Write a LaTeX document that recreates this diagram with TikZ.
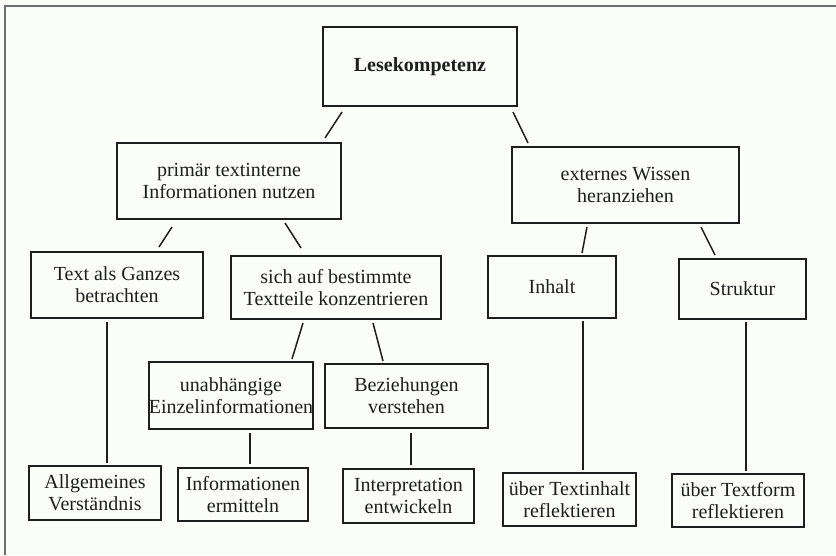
\documentclass[tikz,border=0pt]{standalone}
\usepackage{fontspec}
\setmainfont{Liberation Serif}
\definecolor{bgc}{RGB}{250,253,248}
\definecolor{framec}{RGB}{110,110,110}
\definecolor{inkc}{RGB}{30,30,30}
\begin{document}
\begin{tikzpicture}[x=1pt,y=-1pt,
  box/.style={draw=inkc,line width=1.8pt,rectangle,inner sep=0pt,align=center,
    text=inkc,font=\fontsize{20}{22}\selectfont},
  link/.style={draw=inkc,line width=1.5pt}]
\fill[bgc] (0,0) rectangle (836,555);
\useasboundingbox (0,0) rectangle (836,555);
\draw[framec,line width=1.5pt] (836,6) -- (5,6) -- (5,555);
% boxes
\node[box,minimum width=194,minimum height=79,font=\fontsize{20}{22}\selectfont\bfseries] (lese) at (420,66.5) {Lesekompetenz};
\node[box,minimum width=224,minimum height=76] (prim) at (229,181) {primär textinterne\\Informationen nutzen};
\node[box,minimum width=227,minimum height=76] (ext) at (625.5,185) {externes Wissen\\heranziehen};
\node[box,minimum width=172,minimum height=66] (ganz) at (117,285) {Text als Ganzes\\betrachten};
\node[box,minimum width=210,minimum height=63] (sich) at (336,287.5) {sich auf bestimmte\\Textteile konzentrieren};
\node[box,minimum width=128,minimum height=62] (inh) at (552,287) {Inhalt};
\node[box,minimum width=127,minimum height=60] (str) at (742.5,289) {Struktur};
\node[box,minimum width=162,minimum height=67] (unab) at (231,395.5) {unabhängige\\Einzelinformationen};
\node[box,minimum width=163,minimum height=64] (bez) at (406.5,396) {Beziehungen\\verstehen};
\node[box,minimum width=132,minimum height=54] (allg) at (95,493) {Allgemeines\\Verständnis};
\node[box,minimum width=130,minimum height=53] (info) at (243,494.5) {Informationen\\ermitteln};
\node[box,minimum width=131,minimum height=54] (interp) at (408.5,496) {Interpretation\\entwickeln};
\node[box,minimum width=133,minimum height=53] (tinh) at (569.5,499.5) {über Textinhalt\\reflektieren};
\node[box,minimum width=132,minimum height=53] (tform) at (738,500.5) {über Textform\\reflektieren};
% connector end points (connectors stop short of the boxes)
\coordinate (l1a) at (342,112); \coordinate (l1b) at (325,138);
\coordinate (l2a) at (513,112); \coordinate (l2b) at (528,143);
\coordinate (p1a) at (172,227); \coordinate (p1b) at (159,247);
\coordinate (p2a) at (285,223); \coordinate (p2b) at (301,248);
\coordinate (e1a) at (587,227); \coordinate (e1b) at (582,253);
\coordinate (e2a) at (701,227); \coordinate (e2b) at (715,255);
\coordinate (g1a) at (107,322); \coordinate (g1b) at (107,463);
\coordinate (s1a) at (303,323); \coordinate (s1b) at (292,359);
\coordinate (s2a) at (373,323); \coordinate (s2b) at (383,361);
\coordinate (u1a) at (250,433); \coordinate (u1b) at (250,464);
\coordinate (b1a) at (411,433); \coordinate (b1b) at (411,465);
\coordinate (i1a) at (583,321); \coordinate (i1b) at (583,470);
\coordinate (t1a) at (746,322); \coordinate (t1b) at (746,471);
\draw[link] (l1a) -- (l1b);
\draw[link] (l2a) -- (l2b);
\draw[link] (p1a) -- (p1b);
\draw[link] (p2a) -- (p2b);
\draw[link] (e1a) -- (e1b);
\draw[link] (e2a) -- (e2b);
\draw[link] (g1a) -- (g1b);
\draw[link] (s1a) -- (s1b);
\draw[link] (s2a) -- (s2b);
\draw[link] (u1a) -- (u1b);
\draw[link] (b1a) -- (b1b);
\draw[link] (i1a) -- (i1b);
\draw[link] (t1a) -- (t1b);
\end{tikzpicture}
\end{document}
